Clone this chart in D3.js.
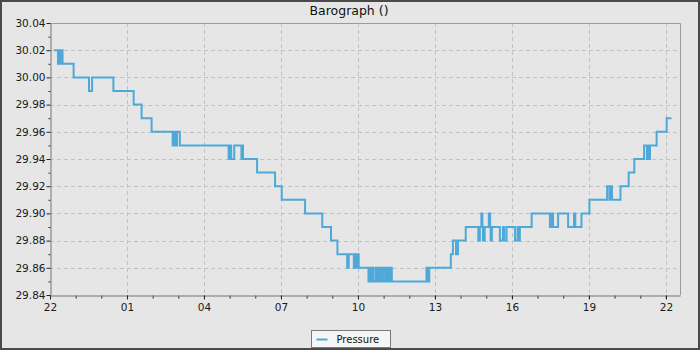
<!DOCTYPE html>
<html>
<head>
<meta charset="utf-8">
<script src="https://cdn.jsdelivr.net/npm/d3@7"></script>
<style>
  html, body { margin: 0; padding: 0; background: #e6e6e6; }
  svg { display: block; font-family: "DejaVu Sans", sans-serif; }
</style>
</head>
<body>
<div class="baro"></div>
<script>

// hours after 22:00, and pressure (inHg) that starts at that time
const hours = [
  0.16, 0.31, 0.35, 0.40, 0.43, 0.49, 0.92, 1.52, 1.64, 2.47, 3.26, 3.57, 3.96,
  4.78, 4.83, 4.89, 4.95, 5.06,
  6.96, 7.03, 7.06, 7.18, 7.46, 7.49, 7.52,
  8.07, 8.77, 9.03, 9.94, 10.61, 10.95, 11.20,
  11.58, 11.64, 11.84, 11.89, 11.94, 11.98, 12.03,
  12.41, 12.47, 12.50, 12.56, 12.60, 12.69, 12.74, 12.80, 12.83, 12.90, 12.93, 13.01,
  13.09, 13.15, 13.21, 13.27, 13.32,
  14.67, 14.71, 14.78,
  15.62, 15.70, 15.82, 15.90, 16.20,
  16.69, 16.75, 16.81, 16.85, 16.87, 16.94,
  17.10, 17.15, 17.17, 17.22,
  17.53, 17.65, 17.70, 17.79,
  18.12, 18.22, 18.24, 18.31, 18.77,
  19.48, 19.56, 19.60, 19.80,
  20.19, 20.42, 20.47, 20.71, 21.02,
  21.71, 21.80, 21.83, 21.90, 22.23, 22.55, 22.77,
  23.15, 23.26, 23.30, 23.33, 23.38, 23.64, 24.03, 24.22
];
const pressure = [
  30.02, 30.01, 30.02, 30.01, 30.02, 30.01, 30.00, 29.99, 30.00, 29.99, 29.98, 29.97, 29.96,
  29.95, 29.96, 29.95, 29.96, 29.95,
  29.94, 29.95, 29.94, 29.95, 29.94, 29.95, 29.94,
  29.93, 29.92, 29.91, 29.90, 29.89, 29.88, 29.87,
  29.86, 29.87, 29.86, 29.87, 29.86, 29.87, 29.86,
  29.85, 29.86, 29.85, 29.86, 29.85, 29.86, 29.85, 29.86, 29.85, 29.86, 29.85, 29.86,
  29.85, 29.86, 29.85, 29.86, 29.85,
  29.86, 29.85, 29.86,
  29.87, 29.88, 29.87, 29.88, 29.89,
  29.88, 29.89, 29.90, 29.89, 29.88, 29.89,
  29.90, 29.89, 29.88, 29.89,
  29.88, 29.89, 29.88, 29.89,
  29.88, 29.89, 29.88, 29.89, 29.90,
  29.89, 29.90, 29.89, 29.90,
  29.89, 29.90, 29.89, 29.90, 29.91,
  29.92, 29.91, 29.92, 29.91, 29.92, 29.93, 29.94,
  29.95, 29.94, 29.95, 29.94, 29.95, 29.96, 29.97, 29.97
];

const xTickHours = [0, 3, 6, 9, 12, 15, 18, 21, 24];
const xTickLabels = ["22", "01", "04", "07", "10", "13", "16", "19", "22"];
const xMinorHours = d3.range(0, 25);
const yTicks = [29.84, 29.86, 29.88, 29.90, 29.92, 29.94, 29.96, 29.98, 30.00, 30.02, 30.04];
const yMinor = [29.85, 29.87, 29.89, 29.91, 29.93, 29.95, 29.97, 29.99, 30.01, 30.03];

const W = 700, H = 350;
const plotL = 50, plotR = 680, plotT = 23, plotB = 295;

var svg = d3.select(".baro").append("svg")
  .attr("width", W).attr("height", H);

// window frame
svg.append("rect")
  .attr("x", 1).attr("y", 1).attr("width", W - 2).attr("height", H - 2)
  .attr("fill", "#e6e6e6").attr("stroke", "#4a4a4a").attr("stroke-width", 2);

var x = d3.scaleLinear().domain([0, 24.55]).range([plotL, plotR]);
var y = d3.scaleLinear().domain([29.84, 30.04]).range([plotB, plotT]);

// grid
svg.append("g").selectAll("line").data(yTicks.slice(1, -1)).enter().append("line")
  .attr("x1", plotL).attr("x2", plotR)
  .attr("y1", d => Math.round(y(d)) + 0.5).attr("y2", d => Math.round(y(d)) + 0.5)
  .attr("stroke", "#c2c2c2").attr("stroke-dasharray", "4,3");
svg.append("g").selectAll("line").data(xTickHours.slice(1)).enter().append("line")
  .attr("y1", plotT).attr("y2", plotB)
  .attr("x1", d => Math.round(x(d)) + 0.5).attr("x2", d => Math.round(x(d)) + 0.5)
  .attr("stroke", "#c2c2c2").attr("stroke-dasharray", "4,3");

// plot frame (top and right)
svg.append("path")
  .attr("d", `M${plotL},${plotT + 0.5}H${plotR + 0.5}V${plotB}`)
  .attr("fill", "none").attr("stroke", "#9a9a9a");

// axes
var yAxis = d3.axisLeft(y).tickValues(yTicks).tickFormat(d3.format(".2f")).tickSize(4).tickSizeOuter(0);
var yAxisMinor = d3.axisLeft(y).tickValues(yMinor).tickFormat("").tickSize(2).tickSizeOuter(0);
var xAxis = d3.axisBottom(x).tickValues(xTickHours).tickFormat((d, i) => xTickLabels[i]).tickSize(4).tickSizeOuter(0);
var xAxisMinor = d3.axisBottom(x).tickValues(xMinorHours).tickFormat("").tickSize(3).tickSizeOuter(0);

function styleAxis(g) {
  g.select(".domain").attr("stroke", "#9a9a9a");
  g.selectAll(".tick line").attr("stroke", "#222");
  g.selectAll("text").attr("fill", "#1a1a1a").style("font-size", "10.5px").style("font-family", "DejaVu Sans");
}

svg.append("g").attr("transform", `translate(${plotL + 0.5},0)`).call(yAxisMinor).call(styleAxis);
svg.append("g").attr("transform", `translate(${plotL + 0.5},0)`).call(yAxis).call(styleAxis)
  .selectAll("text").attr("x", -5);
svg.append("g").attr("transform", `translate(0,${plotB + 0.5})`).call(xAxisMinor).call(styleAxis);
svg.append("g").attr("transform", `translate(0,${plotB + 0.5})`).call(xAxis).call(styleAxis)
  .selectAll("text").attr("y", 8);

// pressure line
var pts = hours.map((h, i) => [h, pressure[i]]);
var line = d3.line().x(d => x(d[0])).y(d => y(d[1])).curve(d3.curveStepAfter);
svg.append("path")
  .datum(pts)
  .attr("d", line)
  .attr("fill", "none")
  .attr("stroke", "#4ea9d9")
  .attr("stroke-width", 2);

// title
svg.append("text")
  .attr("x", 349).attr("y", 15)
  .attr("text-anchor", "middle")
  .style("font-size", "12.5px")
  .attr("fill", "#111")
  .text("Barograph ()");

// legend
var lg = svg.append("g").attr("transform", "translate(311.5,330.5)");
lg.append("rect").attr("width", 79).attr("height", 17)
  .attr("fill", "#f5f5f5").attr("stroke", "#7a7a7a");
lg.append("line").attr("x1", 5).attr("x2", 16).attr("y1", 9).attr("y2", 9)
  .attr("stroke", "#4ea9d9").attr("stroke-width", 2);
lg.append("text").attr("x", 25).attr("y", 12).style("font-size", "10px").attr("fill", "#111").text("Pressure");

</script>
</body>
</html>
